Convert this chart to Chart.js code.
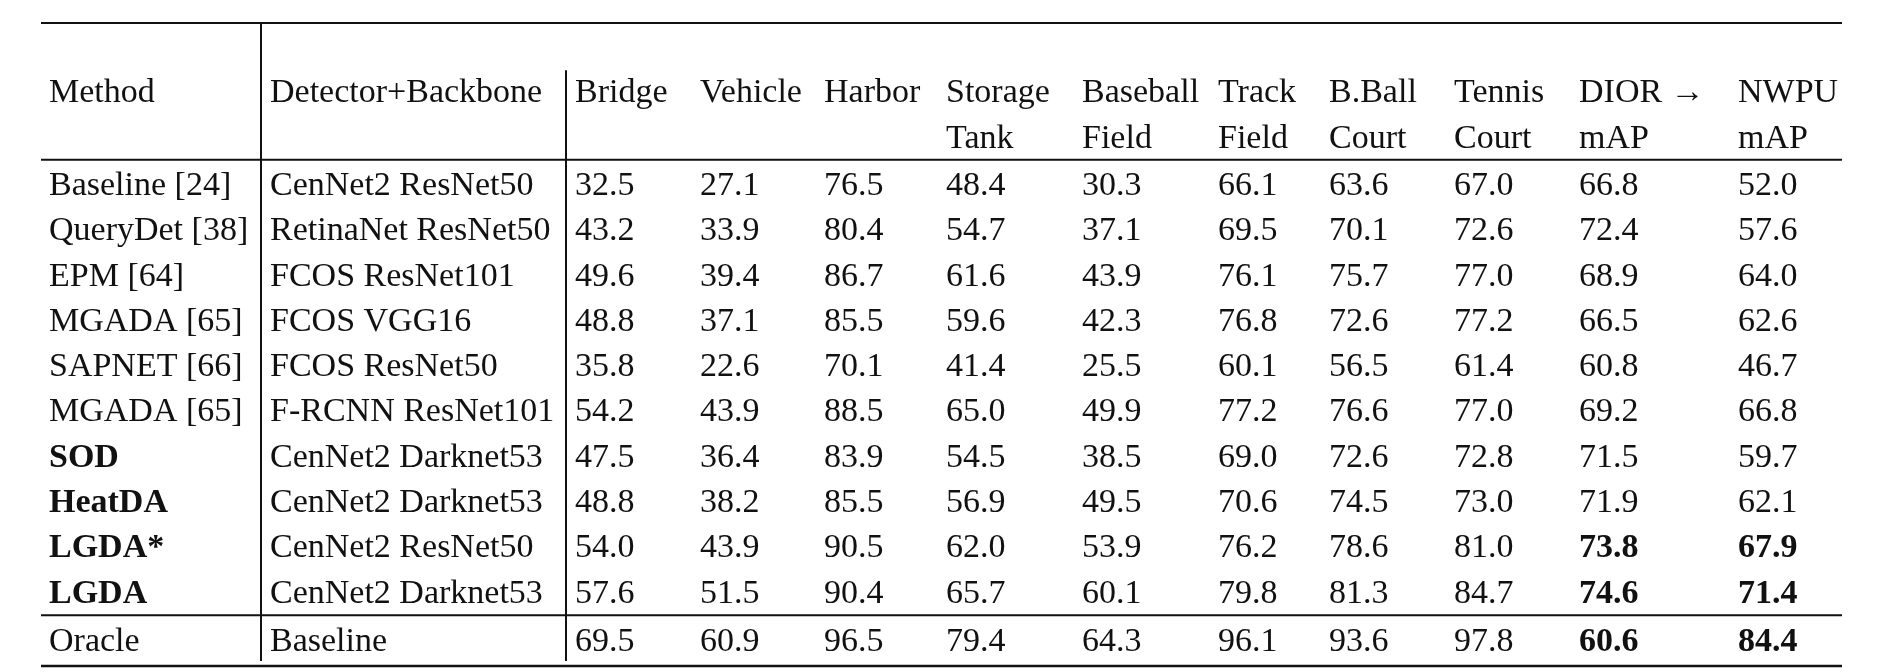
<!DOCTYPE html>
<html>
<head>
<meta charset="utf-8">
<script src="https://cdn.jsdelivr.net/npm/chart.js@4.4.1/dist/chart.umd.min.js"></script>
<style>
  html, body { margin: 0; padding: 0; background: #fff; }
  #wrap { width: 1885px; height: 672px; position: relative; }
</style>
</head>
<body>
<div id="wrap"><canvas id="table-chart"></canvas></div>
<script>
// Table contents
const methods = ['Baseline [24]', 'QueryDet [38]', 'EPM [64]', 'MGADA [65]', 'SAPNET [66]', 'MGADA [65]',
                 'SOD', 'HeatDA', 'LGDA*', 'LGDA', 'Oracle'];
const boldMethods = ['SOD', 'HeatDA', 'LGDA*', 'LGDA'];
const detectors = ['CenNet2 ResNet50', 'RetinaNet ResNet50', 'FCOS ResNet101', 'FCOS VGG16', 'FCOS ResNet50',
                   'F-RCNN ResNet101', 'CenNet2 Darknet53', 'CenNet2 Darknet53', 'CenNet2 ResNet50',
                   'CenNet2 Darknet53', 'Baseline'];
const headers = [['Method'], ['Detector+Backbone'], ['Bridge'], ['Vehicle'], ['Harbor'], ['Storage', 'Tank'],
                 ['Baseball', 'Field'], ['Track', 'Field'], ['B.Ball', 'Court'], ['Tennis', 'Court'],
                 ['DIOR \u2192', 'mAP'], ['NWPU', 'mAP']];

const bridge        = [32.5, 43.2, 49.6, 48.8, 35.8, 54.2, 47.5, 48.8, 54.0, 57.6, 69.5];
const vehicle       = [27.1, 33.9, 39.4, 37.1, 22.6, 43.9, 36.4, 38.2, 43.9, 51.5, 60.9];
const harbor        = [76.5, 80.4, 86.7, 85.5, 70.1, 88.5, 83.9, 85.5, 90.5, 90.4, 96.5];
const storageTank   = [48.4, 54.7, 61.6, 59.6, 41.4, 65.0, 54.5, 56.9, 62.0, 65.7, 79.4];
const baseballField = [30.3, 37.1, 43.9, 42.3, 25.5, 49.9, 38.5, 49.5, 53.9, 60.1, 64.3];
const trackField    = [66.1, 69.5, 76.1, 76.8, 60.1, 77.2, 69.0, 70.6, 76.2, 79.8, 96.1];
const bballCourt    = [63.6, 70.1, 75.7, 72.6, 56.5, 76.6, 72.6, 74.5, 78.6, 81.3, 93.6];
const tennisCourt   = [67.0, 72.6, 77.0, 77.2, 61.4, 77.0, 72.8, 73.0, 81.0, 84.7, 97.8];
const diorMap       = [66.8, 72.4, 68.9, 66.5, 60.8, 69.2, 71.5, 71.9, 73.8, 74.6, 60.6];
const nwpuMap       = [52.0, 57.6, 64.0, 62.6, 46.7, 66.8, 59.7, 62.1, 67.9, 71.4, 84.4];
// rows whose mAP values are set in bold
const boldMapRows = ['LGDA*', 'LGDA', 'Oracle'];

// Layout (table geometry in scale units)
const colWidths = [221, 305, 125, 124, 122, 136, 136, 111, 125, 125, 159, 112];
const cellPad = 8;
const textShift = 3;
const headerRows = [-2.05, -1.04];
const oracleRow = 10.07;
const rules = [{ y: -3.53, w: 2 }, { y: -0.51, w: 2 }, { y: 9.54, w: 2 }, { y: 10.66, w: 2.5 }];
const vSeps = [{ col: 1, from: -3.53, to: 10.55 }, { col: 2, from: -2.49, to: 10.55 }];
const FONT = '"Liberation Serif", "Times New Roman", serif';
const FONT_SIZE = 34;

const valueCols = [bridge, vehicle, harbor, storageTank, baseballField, trackField,
                   bballCourt, tennisCourt, diorMap, nwpuMap];

const colStarts = [];
colWidths.reduce((acc, w) => { colStarts.push(acc); return acc + w; }, 0);
const tableWidth = colWidths.reduce((a, b) => a + b, 0);

function rowY(i) {
    return i === methods.length - 1 ? oracleRow : i;
}

// one dataset per column: header lines + body cells
const datasets = headers.map((hdr, c) => {
    const points = [], texts = [], bold = [];
    hdr.forEach((line, k) => {
        points.push({ x: colStarts[c] + cellPad, y: headerRows[k] });
        texts.push(line);
        bold.push(false);
    });
    methods.forEach((m, r) => {
        let txt;
        let isBold = false;
        if (c === 0) {
            txt = m;
            isBold = boldMethods.includes(m);
        } else if (c === 1) {
            txt = detectors[r];
        } else {
            txt = valueCols[c - 2][r].toFixed(1);
            isBold = c >= 10 && boldMapRows.includes(m);
        }
        points.push({ x: colStarts[c] + cellPad, y: rowY(r) });
        texts.push(txt);
        bold.push(isBold);
    });
    return {
        label: hdr.join(' '),
        data: points,
        texts: texts,
        bold: bold,
        pointRadius: 0,
        pointHoverRadius: 0,
        showLine: false
    };
});

const tablePlugin = {
    id: 'tableText',
    afterDatasetsDraw(chart) {
        const ctx = chart.ctx;
        const xs = chart.scales.x, ys = chart.scales.y;
        const area = chart.chartArea;
        ctx.save();
        ctx.strokeStyle = '#111';
        rules.forEach(r => {
            const y = ys.getPixelForValue(r.y);
            ctx.lineWidth = r.w;
            ctx.beginPath();
            ctx.moveTo(area.left, y);
            ctx.lineTo(area.right, y);
            ctx.stroke();
        });
        ctx.lineWidth = 2;
        vSeps.forEach(v => {
            const x = xs.getPixelForValue(colStarts[v.col]) - 1;
            ctx.beginPath();
            ctx.moveTo(x, ys.getPixelForValue(v.from));
            ctx.lineTo(x, ys.getPixelForValue(v.to));
            ctx.stroke();
        });
        ctx.fillStyle = '#111';
        ctx.textAlign = 'left';
        ctx.textBaseline = 'middle';
        chart.data.datasets.forEach((ds, di) => {
            const meta = chart.getDatasetMeta(di);
            meta.data.forEach((el, i) => {
                ctx.font = (ds.bold[i] ? 'bold ' : '') + FONT_SIZE + 'px ' + FONT;
                ctx.fillText(ds.texts[i], el.x, el.y + textShift);
            });
        });
        ctx.restore();
    }
};

new Chart(document.getElementById('table-chart'), {
    type: 'scatter',
    data: { datasets: datasets },
    options: {
        responsive: true,
        maintainAspectRatio: false,
        animation: false,
        events: [],
        layout: { padding: { left: 41, right: 43, top: 23, bottom: 6 } },
        plugins: { legend: { display: false }, tooltip: { enabled: false } },
        scales: {
            x: { type: 'linear', display: false, min: 0, max: tableWidth },
            y: { type: 'linear', display: false, reverse: true, min: -3.53, max: 10.66 }
        }
    },
    plugins: [tablePlugin]
});
</script>
</body>
</html>
